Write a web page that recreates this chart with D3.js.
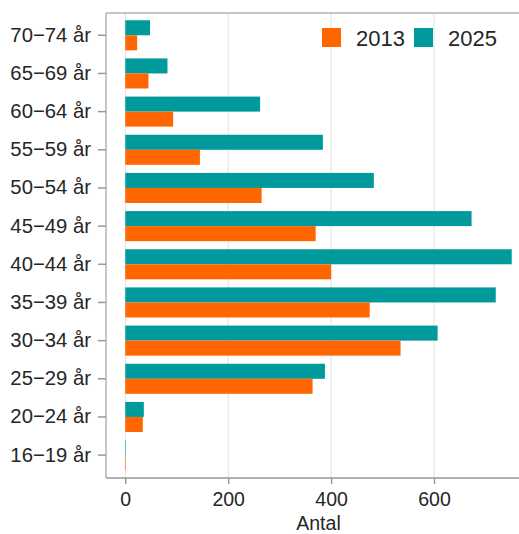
<!DOCTYPE html>
<html><head><meta charset="utf-8">
<script src="https://cdn.jsdelivr.net/npm/d3@7"></script>
<style>
body{margin:0;background:#fff;}
text{font-family:"Liberation Sans",Arial,sans-serif;fill:#262626;}
</style></head>
<body><svg id="c" width="519" height="534"></svg>
<script>
const categories = ["70−74 år","65−69 år","60−64 år","55−59 år","50−54 år","45−49 år","40−44 år","35−39 år","30−34 år","25−29 år","20−24 år","16−19 år"];
const series = ["2025","2013"];
const values2013 = [23,45,93,145,265,370,400,475,535,364,34,1];
const values2025 = [48,82,262,384,483,673,751,720,607,388,36,1];
const xTicks = [0,200,400,600];
const colors = {"2013":"#ff6600","2025":"#00999c"};

(function(){
const svg = d3.select("#c");
const pL = 106, pT = 13, pB = 478, pR = 531;

const x = d3.scaleLinear().domain([-37.5, 788.5]).range([pL, pR]);
const y0 = d3.scaleBand().domain(categories).range([16.2, 474.2]).padding(0);
const y1 = d3.scaleBand().domain(series).range([0, y0.bandwidth()]).paddingInner(0).paddingOuter(0.27);

// gridlines
svg.append("g").selectAll("line").data(xTicks).join("line")
  .attr("x1", d => x(d)).attr("x2", d => x(d))
  .attr("y1", pT).attr("y2", pB)
  .attr("stroke", "#e0e0e0").attr("stroke-width", 1);

// bars
const rows = categories.map((c, i) => ({cat: c, "2013": values2013[i], "2025": values2025[i]}));
const g = svg.append("g");
rows.forEach(r => {
  series.forEach(s => {
    g.append("rect")
      .attr("x", x(0))
      .attr("y", y0(r.cat) + y1(s))
      .attr("width", Math.max(0, x(r[s]) - x(0)))
      .attr("height", y1.bandwidth())
      .attr("fill", colors[s]);
  });
});

// frame
svg.append("line").attr("x1", pL).attr("x2", 519).attr("y1", pT).attr("y2", pT).attr("stroke", "#b3b3b3").attr("stroke-width", 1.5);
svg.append("line").attr("x1", pL).attr("x2", 519).attr("y1", pB).attr("y2", pB).attr("stroke", "#999").attr("stroke-width", 1.5);
svg.append("line").attr("x1", pL).attr("x2", pL).attr("y1", pT).attr("y2", pB).attr("stroke", "#b3b3b3").attr("stroke-width", 1.5);

// y axis
const ya = svg.append("g").attr("transform", `translate(${pL},0)`)
  .call(d3.axisLeft(y0).tickSize(8).tickPadding(7));
ya.select(".domain").remove();
ya.selectAll(".tick line").attr("stroke", "#999").attr("stroke-width", 1.5);
ya.selectAll(".tick text").style("font-size", "20.3px").attr("fill", "#2a2a2a");

// x axis
const xa = svg.append("g").attr("transform", `translate(0,${pB})`)
  .call(d3.axisBottom(x).tickValues(xTicks).tickSize(6).tickPadding(8));
xa.select(".domain").remove();
xa.selectAll(".tick line").attr("stroke", "#999").attr("stroke-width", 1.5);
xa.selectAll(".tick text").style("font-size", "19.5px").attr("fill", "#2a2a2a");

svg.append("text").attr("x", (pL + pR) / 2).attr("y", 530)
  .attr("text-anchor", "middle").style("font-size", "19.5px").text("Antal");

// legend
const legendItems = [{k:"2013", x:322},{k:"2025", x:414}];
const lg = svg.append("g");
legendItems.forEach(it => {
  lg.append("rect").attr("x", it.x).attr("y", 28).attr("width", 19).attr("height", 19).attr("fill", colors[it.k]);
  lg.append("text").attr("x", it.x + 34).attr("y", 46).style("font-size", "22px").text(it.k);
});
})();
</script></body></html>
